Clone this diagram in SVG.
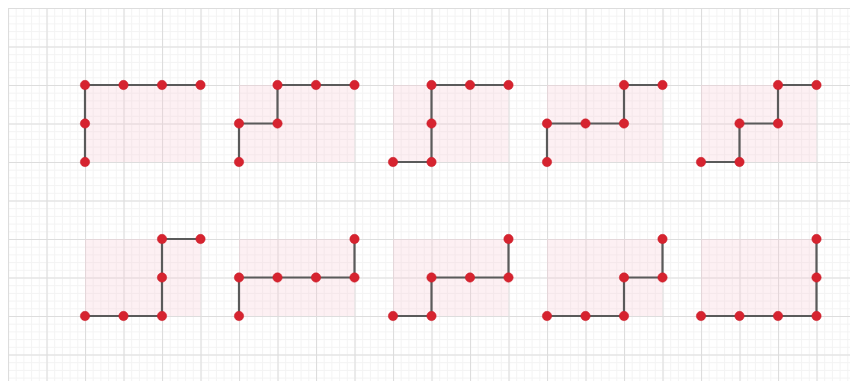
<svg xmlns="http://www.w3.org/2000/svg" width="850" height="383" viewBox="0 0 850 383">
<defs>
<pattern id="minor" patternUnits="userSpaceOnUse" x="8" y="8" width="7.7" height="7.7">
<path d="M0 0.5H7.7M0.5 0V7.7" fill="none" stroke="#f3f3f3" stroke-width="1"/>
</pattern>
<pattern id="major" patternUnits="userSpaceOnUse" x="8" y="8" width="38.5" height="38.5">
<path d="M0 0.5H38.5M0.5 0V38.5" fill="none" stroke="#dddddd" stroke-width="1.2"/>
</pattern>
<style>
.shade{fill:#f9c9d4;fill-opacity:0.28}
.path{fill:none;stroke:#5a5a5a;stroke-width:2.2;stroke-linejoin:miter}
.dot{fill:#d6232f;stroke:#c81e2a;stroke-width:0.5}
</style>
</defs>
<rect width="850" height="383" fill="#ffffff"/>
<rect x="8" y="8" width="842" height="373" fill="url(#minor)"/>
<rect x="8" y="8" width="842" height="373" fill="url(#major)"/>
<g id="shading">
<rect class="shade" x="85" y="85" width="115.5" height="77"/>
<rect class="shade" x="239" y="85" width="115.5" height="77"/>
<rect class="shade" x="393" y="85" width="115.5" height="77"/>
<rect class="shade" x="547" y="85" width="115.5" height="77"/>
<rect class="shade" x="701" y="85" width="115.5" height="77"/>
<rect class="shade" x="85" y="239" width="115.5" height="77"/>
<rect class="shade" x="239" y="239" width="115.5" height="77"/>
<rect class="shade" x="393" y="239" width="115.5" height="77"/>
<rect class="shade" x="547" y="239" width="115.5" height="77"/>
<rect class="shade" x="701" y="239" width="115.5" height="77"/>
</g>
<g id="connectors">
<polyline class="path" points="85,162 85,123.5 85,85 123.5,85 162,85 200.5,85"/>
<polyline class="path" points="239,162 239,123.5 277.5,123.5 277.5,85 316,85 354.5,85"/>
<polyline class="path" points="393,162 431.5,162 431.5,123.5 431.5,85 470,85 508.5,85"/>
<polyline class="path" points="547,162 547,123.5 585.5,123.5 624,123.5 624,85 662.5,85"/>
<polyline class="path" points="701,162 739.5,162 739.5,123.5 778,123.5 778,85 816.5,85"/>
<polyline class="path" points="85,316 123.5,316 162,316 162,277.5 162,239 200.5,239"/>
<polyline class="path" points="239,316 239,277.5 277.5,277.5 316,277.5 354.5,277.5 354.5,239"/>
<polyline class="path" points="393,316 431.5,316 431.5,277.5 470,277.5 508.5,277.5 508.5,239"/>
<polyline class="path" points="547,316 585.5,316 624,316 624,277.5 662.5,277.5 662.5,239"/>
<polyline class="path" points="701,316 739.5,316 778,316 816.5,316 816.5,277.5 816.5,239"/>
</g>
<g id="shape1" class="dot"><circle cx="85" cy="162" r="4.7"/><circle cx="85" cy="123.5" r="4.7"/><circle cx="85" cy="85" r="4.7"/><circle cx="123.5" cy="85" r="4.7"/><circle cx="162" cy="85" r="4.7"/><circle cx="200.5" cy="85" r="4.7"/></g>
<g id="shape2" class="dot"><circle cx="239" cy="162" r="4.7"/><circle cx="239" cy="123.5" r="4.7"/><circle cx="277.5" cy="123.5" r="4.7"/><circle cx="277.5" cy="85" r="4.7"/><circle cx="316" cy="85" r="4.7"/><circle cx="354.5" cy="85" r="4.7"/></g>
<g id="shape3" class="dot"><circle cx="393" cy="162" r="4.7"/><circle cx="431.5" cy="162" r="4.7"/><circle cx="431.5" cy="123.5" r="4.7"/><circle cx="431.5" cy="85" r="4.7"/><circle cx="470" cy="85" r="4.7"/><circle cx="508.5" cy="85" r="4.7"/></g>
<g id="shape4" class="dot"><circle cx="547" cy="162" r="4.7"/><circle cx="547" cy="123.5" r="4.7"/><circle cx="585.5" cy="123.5" r="4.7"/><circle cx="624" cy="123.5" r="4.7"/><circle cx="624" cy="85" r="4.7"/><circle cx="662.5" cy="85" r="4.7"/></g>
<g id="shape5" class="dot"><circle cx="701" cy="162" r="4.7"/><circle cx="739.5" cy="162" r="4.7"/><circle cx="739.5" cy="123.5" r="4.7"/><circle cx="778" cy="123.5" r="4.7"/><circle cx="778" cy="85" r="4.7"/><circle cx="816.5" cy="85" r="4.7"/></g>
<g id="shape6" class="dot"><circle cx="85" cy="316" r="4.7"/><circle cx="123.5" cy="316" r="4.7"/><circle cx="162" cy="316" r="4.7"/><circle cx="162" cy="277.5" r="4.7"/><circle cx="162" cy="239" r="4.7"/><circle cx="200.5" cy="239" r="4.7"/></g>
<g id="shape7" class="dot"><circle cx="239" cy="316" r="4.7"/><circle cx="239" cy="277.5" r="4.7"/><circle cx="277.5" cy="277.5" r="4.7"/><circle cx="316" cy="277.5" r="4.7"/><circle cx="354.5" cy="277.5" r="4.7"/><circle cx="354.5" cy="239" r="4.7"/></g>
<g id="shape8" class="dot"><circle cx="393" cy="316" r="4.7"/><circle cx="431.5" cy="316" r="4.7"/><circle cx="431.5" cy="277.5" r="4.7"/><circle cx="470" cy="277.5" r="4.7"/><circle cx="508.5" cy="277.5" r="4.7"/><circle cx="508.5" cy="239" r="4.7"/></g>
<g id="shape9" class="dot"><circle cx="547" cy="316" r="4.7"/><circle cx="585.5" cy="316" r="4.7"/><circle cx="624" cy="316" r="4.7"/><circle cx="624" cy="277.5" r="4.7"/><circle cx="662.5" cy="277.5" r="4.7"/><circle cx="662.5" cy="239" r="4.7"/></g>
<g id="shape10" class="dot"><circle cx="701" cy="316" r="4.7"/><circle cx="739.5" cy="316" r="4.7"/><circle cx="778" cy="316" r="4.7"/><circle cx="816.5" cy="316" r="4.7"/><circle cx="816.5" cy="277.5" r="4.7"/><circle cx="816.5" cy="239" r="4.7"/></g>
</svg>
